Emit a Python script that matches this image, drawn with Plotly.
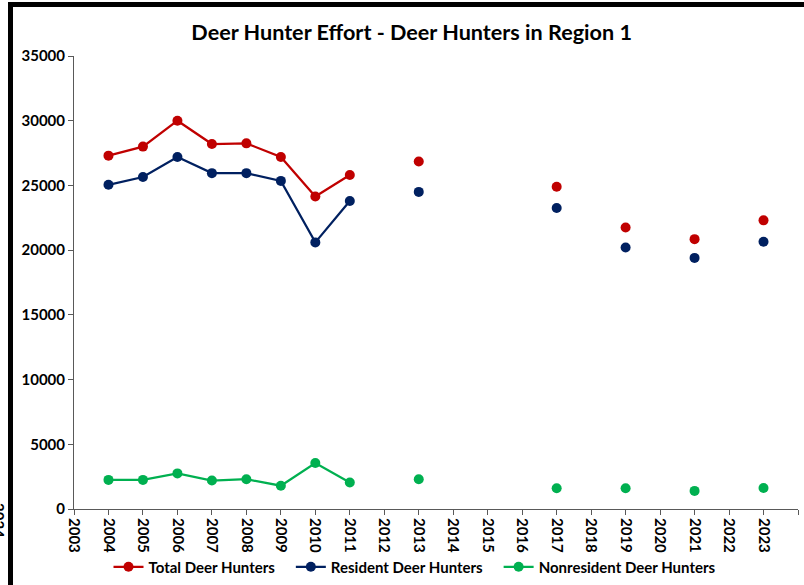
import plotly.graph_objects as go

years = list(range(2004, 2024))
total = [27300, 28000, 30000, 28200, 28250, 27200, 24150, 25800, None, 26850, None, None, None, 24900, None, 21750, None, 20850, None, 22300]
resident = [25050, 25650, 27200, 25950, 25950, 25350, 20600, 23800, None, 24500, None, None, None, 23250, None, 20200, None, 19400, None, 20650]
nonresident = [2250, 2250, 2750, 2200, 2300, 1800, 3550, 2050, None, 2300, None, None, None, 1600, None, 1600, None, 1400, None, 1620]

NB = "\u00a0\u00a0\u00a0"
series = [
    ("Total Deer Hunters" + NB, total, "#C00000"),
    ("Resident Deer Hunters" + NB, resident, "#002060"),
    ("Nonresident Deer Hunters", nonresident, "#00B050"),
]

FONT = "Lato"
fig = go.Figure()
for name, vals, col in series:
    fig.add_trace(go.Scatter(
        x=years, y=vals, name=name, mode="lines+markers",
        line=dict(color=col, width=2.25), marker=dict(color=col, size=10),
        connectgaps=False,
    ))

fig.update_layout(
    width=804, height=585,
    margin=dict(l=74, r=6, t=56, b=76),
    paper_bgcolor="white", plot_bgcolor="white",
    title=dict(text="<b>Deer Hunter Effort - Deer Hunters in Region 1</b>",
               x=0.512, xanchor="center", y=0.945, yanchor="middle",
               font=dict(family=FONT, size=21.6, color="black")),
    showlegend=True,
    legend=dict(orientation="h", x=(415-74)/724, xanchor="center",
                yref="container", y=(585-567)/585, yanchor="middle",
                font=dict(family=FONT, size=15, color="black", weight="bold"),
                itemwidth=30, tracegroupgap=0, bgcolor="rgba(0,0,0,0)"),
    xaxis=dict(range=[2003, 2024], tickmode="linear", tick0=2003, dtick=1,
               tickformat="d", tickangle=90, showgrid=False, zeroline=False,
               showline=True, linecolor="#595959", linewidth=1,
               ticks="outside", ticklen=5, tickcolor="#595959", automargin=False,
               tickfont=dict(family=FONT, size=15, color="black", weight="bold")),
    yaxis=dict(range=[0, 35000], tickmode="linear", tick0=0, dtick=5000,
               tickformat="d", showgrid=False, zeroline=False,
               showline=True, linecolor="#595959", linewidth=1,
               ticks="outside", ticklen=5, tickcolor="#595959", automargin=False,
               tickfont=dict(family=FONT, size=15, color="black", weight="bold")),
    shapes=[
        dict(type="rect", xref="paper", yref="paper", x0=(8-74)/724, x1=(804-74)/724,
             y0=(509-2)/453, y1=(509-7)/453, fillcolor="black", line_width=0, layer="above"),
        dict(type="rect", xref="paper", yref="paper", x0=(8-74)/724, x1=(13-74)/724,
             y0=(509-2)/453, y1=(509-585)/453, fillcolor="black", line_width=0, layer="above"),
    ],
    annotations=[
        dict(text="<b>2024</b>", xref="paper", yref="paper", x=(-1-74)/724, y=(509-520)/453,
             xanchor="center", yanchor="middle", textangle=90, showarrow=False,
             font=dict(family=FONT, size=15, color="black")),
    ],
)

fig.write_html("out.html", config={"displayModeBar": False},
               post_script="document.body.style.margin='0';document.body.style.overflow='hidden';")
